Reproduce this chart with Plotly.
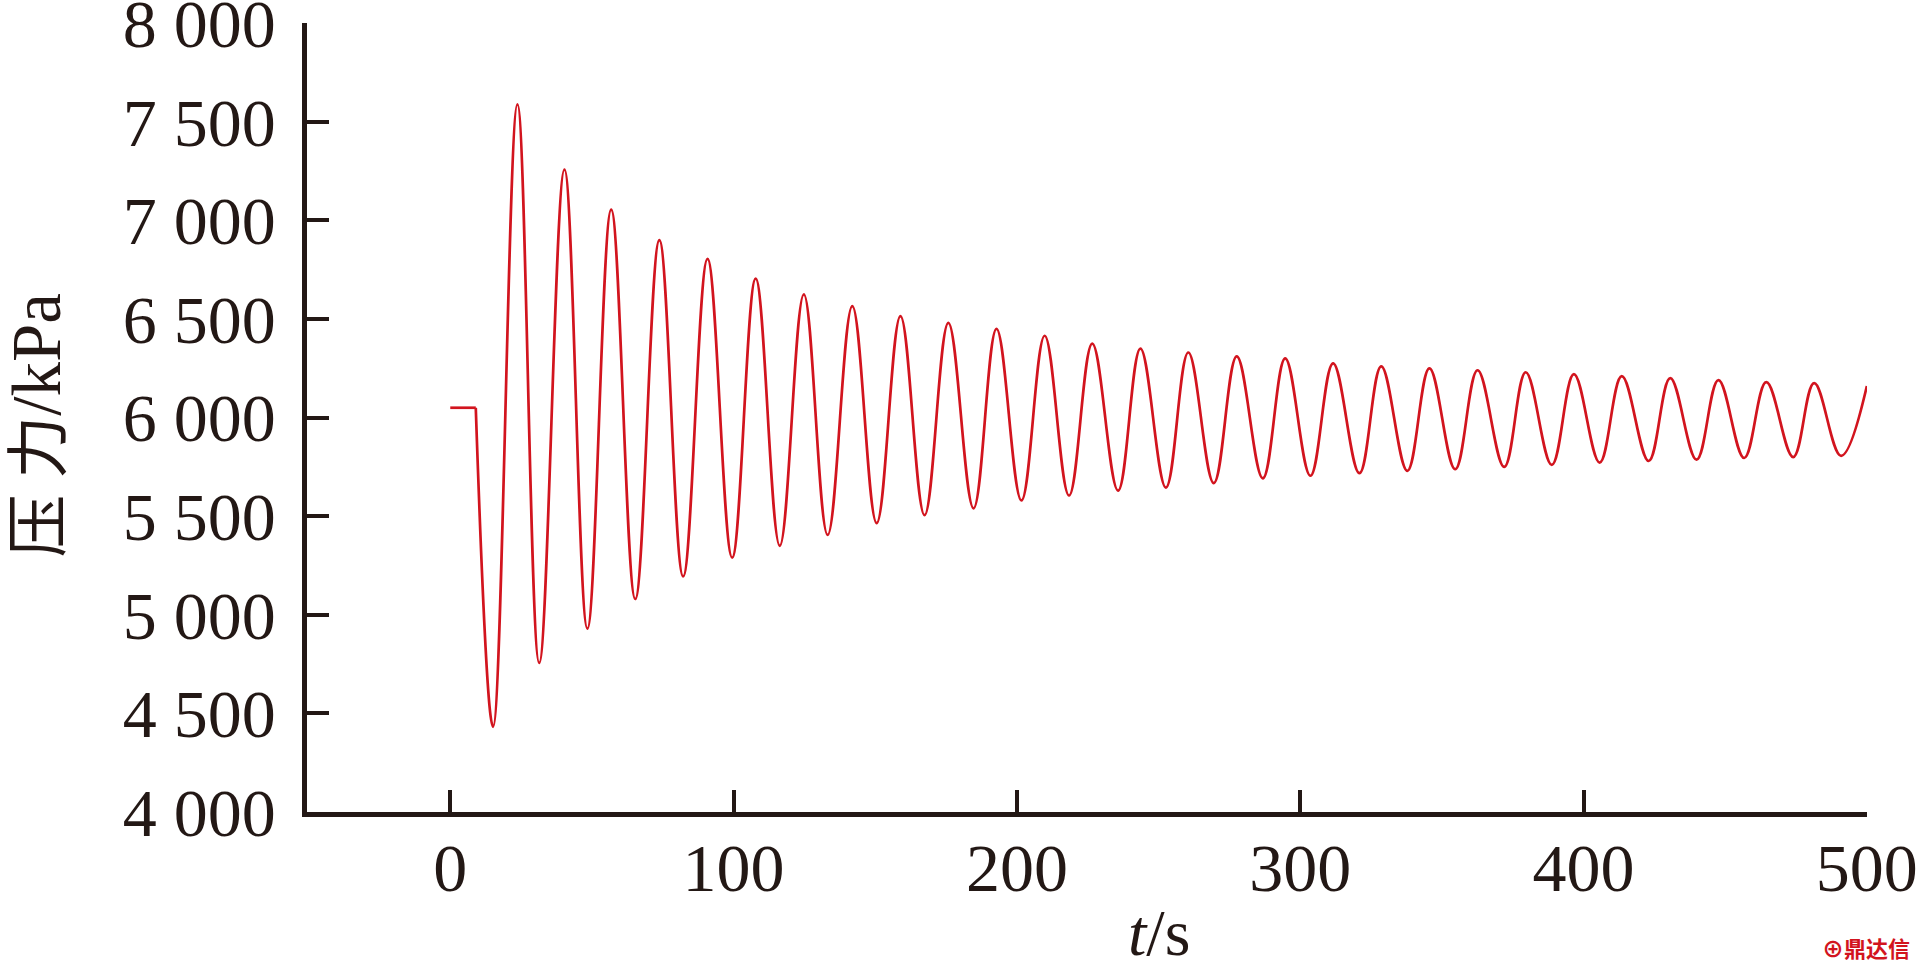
import plotly.graph_objects as go

# ---- data ----
flat_t = [0.0, 9.0]
flat_p = [6050, 6050]

trough_t = [15.1, 31.4, 48.4, 65.3, 82.2, 99.5, 116.3, 133.2, 150.5, 167.4,
            184.7, 201.6, 218.4, 235.7, 252.6, 269.5, 286.8, 303.6, 320.9, 337.8,
            354.7, 372.0, 388.8, 405.7, 423.0, 439.9, 456.7, 474.0, 490.9]
trough_p = [4432, 4756, 4930, 5080, 5195, 5290, 5350, 5405, 5465, 5505,
            5540, 5580, 5605, 5630, 5645, 5668, 5692, 5705, 5718, 5730,
            5738, 5750, 5760, 5772, 5780, 5787, 5795, 5800, 5806]

peak_t = [23.7, 40.3, 56.8, 73.8, 90.8, 107.8, 124.8, 141.9, 158.9, 175.8,
          192.8, 209.8, 226.6, 243.6, 260.5, 277.6, 294.7, 311.6, 328.6, 345.6,
          362.6, 379.6, 396.6, 413.5, 430.6, 447.6, 464.5, 481.4]
peak_p = [7588, 7257, 7055, 6900, 6805, 6705, 6625, 6565, 6515, 6480,
          6450, 6415, 6375, 6350, 6330, 6310, 6300, 6275, 6260, 6250,
          6240, 6230, 6220, 6210, 6200, 6190, 6180, 6175]

end_t = [500.0]
end_p = [6160]

y_ticks = [4000, 4500, 5000, 5500, 6000, 6500, 7000, 7500, 8000]
y_ticktext = ["4 000", "4 500", "5 000", "5 500", "6 000", "6 500", "7 000", "7 500", "8 000"]
x_ticks = [0, 100, 200, 300, 400, 500]
x_ticktext = ["0", "100", "200", "300", "400", "500"]

# oscillation sequence: start of drop, then alternating troughs / peaks, then end
osc_t = [flat_t[-1]]
osc_p = [flat_p[-1]]
for i in range(len(trough_t)):
    osc_t.append(trough_t[i]); osc_p.append(trough_p[i])
    if i < len(peak_t):
        osc_t.append(peak_t[i]); osc_p.append(peak_p[i])
osc_t += end_t
osc_p += end_p

RED = "#d2141e"
INK = "#231815"
FONT = "Liberation Serif, Times New Roman, serif"
TICK_SIZE = 68

fig = go.Figure()
fig.add_trace(go.Scatter(x=flat_t, y=flat_p, mode="lines",
                         line=dict(color=RED, width=2.7), showlegend=False))
fig.add_trace(go.Scatter(x=osc_t, y=osc_p, mode="lines",
                         line=dict(color=RED, width=2.7, shape="spline", smoothing=1.1),
                         showlegend=False))

fig.update_layout(
    width=1919, height=971,
    margin=dict(l=307, r=52, t=23, b=159),
    paper_bgcolor="white", plot_bgcolor="white",
    font=dict(family=FONT, size=TICK_SIZE, color=INK),
    xaxis=dict(range=[-50.57, 500.05], tickvals=x_ticks, ticktext=x_ticktext,
               showline=True, linecolor=INK, linewidth=4.5,
               ticks="inside", ticklen=22, tickwidth=4, tickcolor=INK,
               showgrid=False, zeroline=False, ticklabelstandoff=-7,
               automargin=False, ticklabeloverflow="allow",
               tickfont=dict(family=FONT, size=TICK_SIZE, color=INK)),
    yaxis=dict(range=[4000, 8001], tickvals=y_ticks, ticktext=y_ticktext,
               showline=True, linecolor=INK, linewidth=4.5,
               ticks="inside", ticklen=22, tickwidth=4, tickcolor=INK,
               showgrid=False, zeroline=False, ticklabelstandoff=13,
               automargin=False, ticklabeloverflow="allow",
               tickfont=dict(family=FONT, size=TICK_SIZE, color=INK)),
    annotations=[
        dict(text="<i>t</i>/s", xref="x", yref="paper", x=250, y=-0.2005,
             xanchor="center", yanchor="bottom", showarrow=False, borderpad=0,
             font=dict(family=FONT, size=66, color=INK)),
        dict(text="<span style='font-size:63px'>压 力</span>/kPa",
             xref="paper", yref="paper", x=-0.173, y=0.49,
             xanchor="center", yanchor="middle", textangle=-90, showarrow=False,
             font=dict(family="Liberation Serif, Noto Sans CJK SC", size=69, color=INK)),
        dict(text="<b>⊕鼎达信</b>", xref="paper", yref="paper", x=1.029, y=-0.171,
             xanchor="right", yanchor="middle", showarrow=False,
             font=dict(family="Noto Sans CJK SC", size=22, color=RED)),
    ],
)

fig.write_html("out.html", config={"displayModeBar": False},
               post_script="document.body.style.margin='0';")
